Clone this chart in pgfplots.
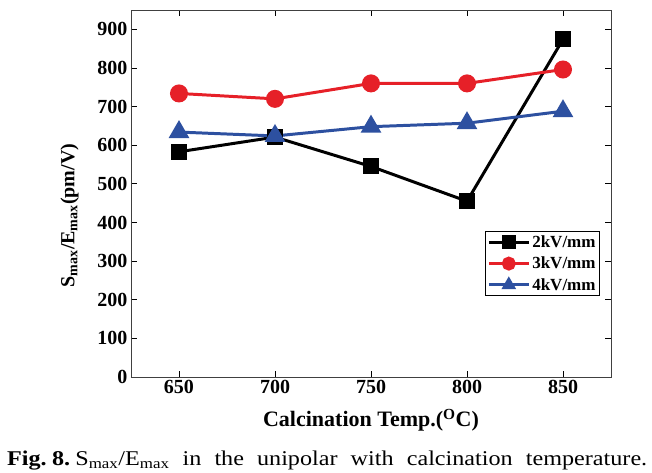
\documentclass[border=0pt]{standalone}
\usepackage{pgfplots}
\pgfplotsset{compat=1.18}
\usepackage{fontspec}
\setmainfont{Liberation Serif}
\newfontfamily\capfont[FakeStretch=1.15]{Liberation Serif}
\definecolor{cred}{RGB}{230,32,40}
\definecolor{cblue}{RGB}{45,80,160}
\begin{document}
\begin{tikzpicture}
\path[use as bounding box] (-131bp,-96bp) rectangle (521bp,377bp);
\begin{axis}[
  at={(0,0)}, anchor=south west,
  scale only axis, width=480bp, height=367bp,
  xmin=625, xmax=875, ymin=0, ymax=950,
  xtick={650,700,750,800,850},
  ytick={0,100,...,900},
  tick align=inside, major tick length=6bp,
  tick style={black, line width=0.8pt},
  axis line style={line width=0.8pt, black!75},
  /pgf/number format/assume math mode=true,
  ticklabel style={font=\fontsize{20bp}{22bp}\selectfont\bfseries},
  xlabel={\textbf{Calcination Temp.(\textsuperscript{O}C)}},
  ylabel={\textbf{S\textsubscript{max}/E\textsubscript{max}(pm/V)}},
  label style={font=\fontsize{22bp}{24bp}\selectfont},
  xlabel style={yshift=-8bp},
  ylabel style={yshift=12bp, xshift=-22bp, font=\fontsize{20bp}{22bp}\selectfont},
  legend style={at={(0.977,0.221)}, anchor=south east, draw=black, line width=0.8pt,
    font=\fontsize{17bp}{19bp}\selectfont\bfseries, inner sep=2bp, row sep=4bp},
  legend cell align=left,
  legend image code/.code={\draw[mark repeat=2, mark phase=2, #1, mark size=5.5bp]
     plot coordinates {(0bp,0bp) (20bp,0bp) (40bp,0bp)};},
]
\addplot[black, line width=3pt, mark=square*, mark size=6.5bp] coordinates {(650,583) (700,621) (750,545) (800,455) (850,874)};
\addplot[cred, line width=3pt, mark=*, mark size=7.5bp] coordinates {(650,734) (700,720) (750,760) (800,760) (850,796)};
\addplot[cblue, line width=3pt, mark=triangle*, mark size=9bp] coordinates {(650,634) (700,624) (750,648) (800,657) (850,688)};
\legend{2kV/mm,3kV/mm,4kV/mm}
\end{axis}
\node[anchor=base west, inner sep=0] at (-124bp,-88bp) {\makebox[640bp][s]{\capfont\fontsize{21bp}{23bp}\selectfont\textbf{Fig.\hspace{0.25em}8.}\hspace{0.25em}S\textsubscript{max}/E\textsubscript{max} in the unipolar with calcination temperature.}};
\end{tikzpicture}
\end{document}
